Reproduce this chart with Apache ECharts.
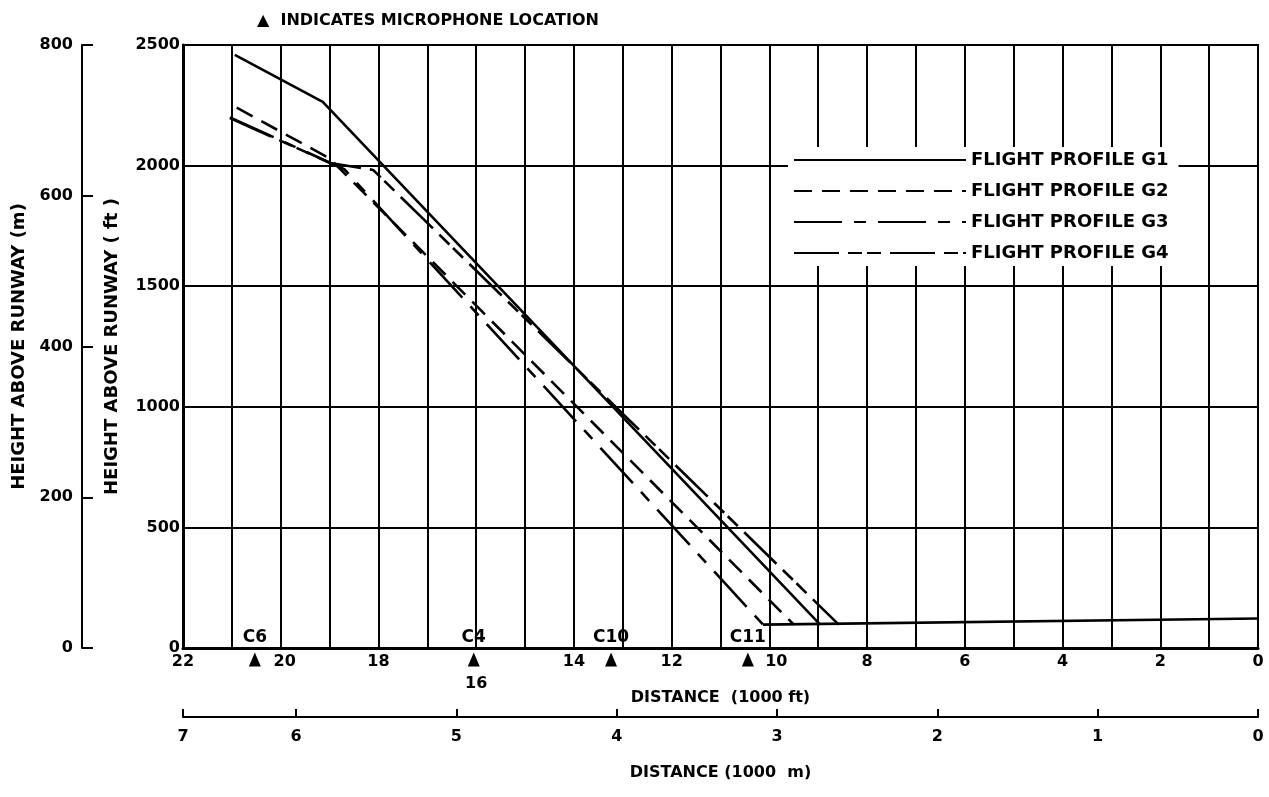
<!DOCTYPE html>
<html>
<head>
<meta charset="utf-8">
<script src="https://cdn.jsdelivr.net/npm/echarts@6/dist/echarts.min.js"></script>
<style>
html,body{margin:0;padding:0;background:#fff;}
#chart{width:1269px;height:797px;}
</style>
</head>
<body>
<div id="chart"></div>
<script>
// Distance in 1000 ft, height in ft
const profileG1 = [[20.94, 2459], [19.14, 2264], [8.96, 97]];
const profileG2 = [[20.90, 2240], [19.00, 2030], [9.50, 97]];
const profileG3 = [[21.04, 2200], [18.70, 1985], [10.13, 97]];
const profileG4 = [[21.04, 2197], [18.99, 2011], [18.11, 1982], [8.58, 97]];
const runwayLevel = [[10.13, 97], [0, 122]];
const seriesNames = ['FLIGHT PROFILE G1', 'FLIGHT PROFILE G2', 'FLIGHT PROFILE G3', 'FLIGHT PROFILE G4'];
const micNames = ['C6', 'C4', 'C10', 'C11'];
const micDistance = [20.53, 16.05, 13.24, 10.44];
const micMarkerHeight = -48;
const ftPerM = 3.2808;
const xMaxKft = 22;

const FONT = 'DejaVu Sans';
const chart = echarts.init(document.getElementById('chart'), null, {renderer: 'canvas'});

const lineBase = {type: 'line', symbol: 'none', showSymbol: false, xAxisIndex: 0, yAxisIndex: 0, z: 5, animation: false};
const txt = (size) => ({fontFamily: FONT, fontWeight: 'bold', fontSize: size, color: '#000'});

const option = {
  backgroundColor: '#fff',
  animation: false,
  title: {
    text: '▲  INDICATES MICROPHONE LOCATION',
    left: 252, top: 8,
    textStyle: txt(16)
  },
  legend: {
    data: seriesNames,
    orient: 'vertical',
    left: 788, top: 147,
    padding: [4, 10, 4, 5],
    itemWidth: 172, itemHeight: 14, itemGap: 13,
    backgroundColor: '#fff',
    itemStyle: {opacity: 0},
    textStyle: txt(18),
    z: 20
  },
  grid: {
    left: 183, right: 11, top: 45, bottom: 149,
    show: true, borderColor: '#000', borderWidth: 2, backgroundColor: 'transparent'
  },
  xAxis: [
    {
      type: 'value', min: 0, max: xMaxKft, interval: 1, inverse: true,
      position: 'bottom',
      name: 'DISTANCE  (1000 ft)', nameLocation: 'middle', nameGap: 42,
      nameMoveOverlap: false,
      nameTextStyle: txt(16),
      axisLine: {show: true, onZero: false, lineStyle: {color: '#000', width: 3}},
      axisTick: {show: false},
      splitLine: {show: true, lineStyle: {color: '#000', width: 2}},
      axisLabel: Object.assign(txt(16), {
        margin: 6,
        formatter: v => {
          if (v % 2 !== 0) return '';
          if (v === 16) return '{low|16}';
          if (v === 20) return '{r1|20}';
          if (v === 10) return '{r2|10}';
          return String(v);
        },
        rich: {
          low: Object.assign(txt(16), {padding: [22, 0, 0, 0]}),
          r1: Object.assign(txt(16), {padding: [0, 0, 0, 8]}),
          r2: Object.assign(txt(16), {padding: [0, 0, 0, 14]})
        }
      })
    },
    {
      type: 'value', min: 0, max: xMaxKft / ftPerM, interval: 1, inverse: true,
      position: 'bottom', offset: 69, gridIndex: 0,
      name: 'DISTANCE (1000  m)', nameLocation: 'middle', nameGap: 48,
      nameTextStyle: txt(16),
      axisLine: {show: true, onZero: false, lineStyle: {color: '#000', width: 2}},
      axisTick: {show: true, inside: true, length: 8, lineStyle: {color: '#000', width: 2}},
      splitLine: {show: false},
      axisLabel: Object.assign(txt(16), {
        margin: 12,
        showMaxLabel: true,
        formatter: v => (v > 6.5 ? '7' : String(Math.round(v)))
      })
    }
  ],
  yAxis: [
    {
      type: 'value', min: 0, max: 2500, interval: 500,
      position: 'left',
      name: 'HEIGHT ABOVE RUNWAY ( ft )', nameLocation: 'middle', nameGap: 62,
      nameTextStyle: txt(18),
      axisLine: {show: true, onZero: false, lineStyle: {color: '#000', width: 3}},
      axisTick: {show: false},
      splitLine: {show: true, lineStyle: {color: '#000', width: 2}},
      axisLabel: Object.assign(txt(16), {margin: 3, formatter: v => String(v)})
    },
    {
      type: 'value', min: 0, max: 800, interval: 200,
      position: 'left', offset: 101,
      name: 'HEIGHT ABOVE RUNWAY (m)', nameLocation: 'middle', nameGap: 54,
      nameTextStyle: txt(18),
      axisLine: {show: true, onZero: false, lineStyle: {color: '#000', width: 2}},
      axisTick: {show: true, inside: true, length: 11, lineStyle: {color: '#000', width: 2}},
      splitLine: {show: false},
      axisLabel: Object.assign(txt(16), {margin: 9, formatter: v => String(v)})
    }
  ],
  series: [
    Object.assign({}, lineBase, {name: seriesNames[0], data: profileG1,
      lineStyle: {color: '#000', width: 2.6, type: 'solid'}, itemStyle: {color: '#000'}}),
    Object.assign({}, lineBase, {name: seriesNames[1], data: profileG2,
      lineStyle: {color: '#000', width: 2.6, type: [18, 10]}, itemStyle: {color: '#000'}}),
    Object.assign({}, lineBase, {name: seriesNames[2], data: profileG3,
      lineStyle: {color: '#000', width: 2.6, type: [48, 12, 12, 12]}, itemStyle: {color: '#000'}}),
    Object.assign({}, lineBase, {name: seriesNames[3], data: profileG4,
      lineStyle: {color: '#000', width: 2.6, type: [45, 9, 14, 5, 14, 9]}, itemStyle: {color: '#000'}}),
    Object.assign({}, lineBase, {name: 'runway', data: runwayLevel,
      lineStyle: {color: '#000', width: 2.6, type: 'solid'}, itemStyle: {color: '#000'}}),
    {
      type: 'scatter', name: 'mics', xAxisIndex: 0, yAxisIndex: 0, clip: false, z: 10,
      symbol: 'triangle', symbolSize: [12, 14],
      itemStyle: {color: '#000', opacity: 1},
      data: micNames.map((n, i) => ({name: n, value: [micDistance[i], micMarkerHeight]})),
      label: Object.assign(txt(17), {show: true, position: 'top', distance: 6, opacity: 1,
        formatter: p => p.name}),
      emphasis: {disabled: true}
    }
  ]
};
chart.setOption(option);
</script>
</body>
</html>
